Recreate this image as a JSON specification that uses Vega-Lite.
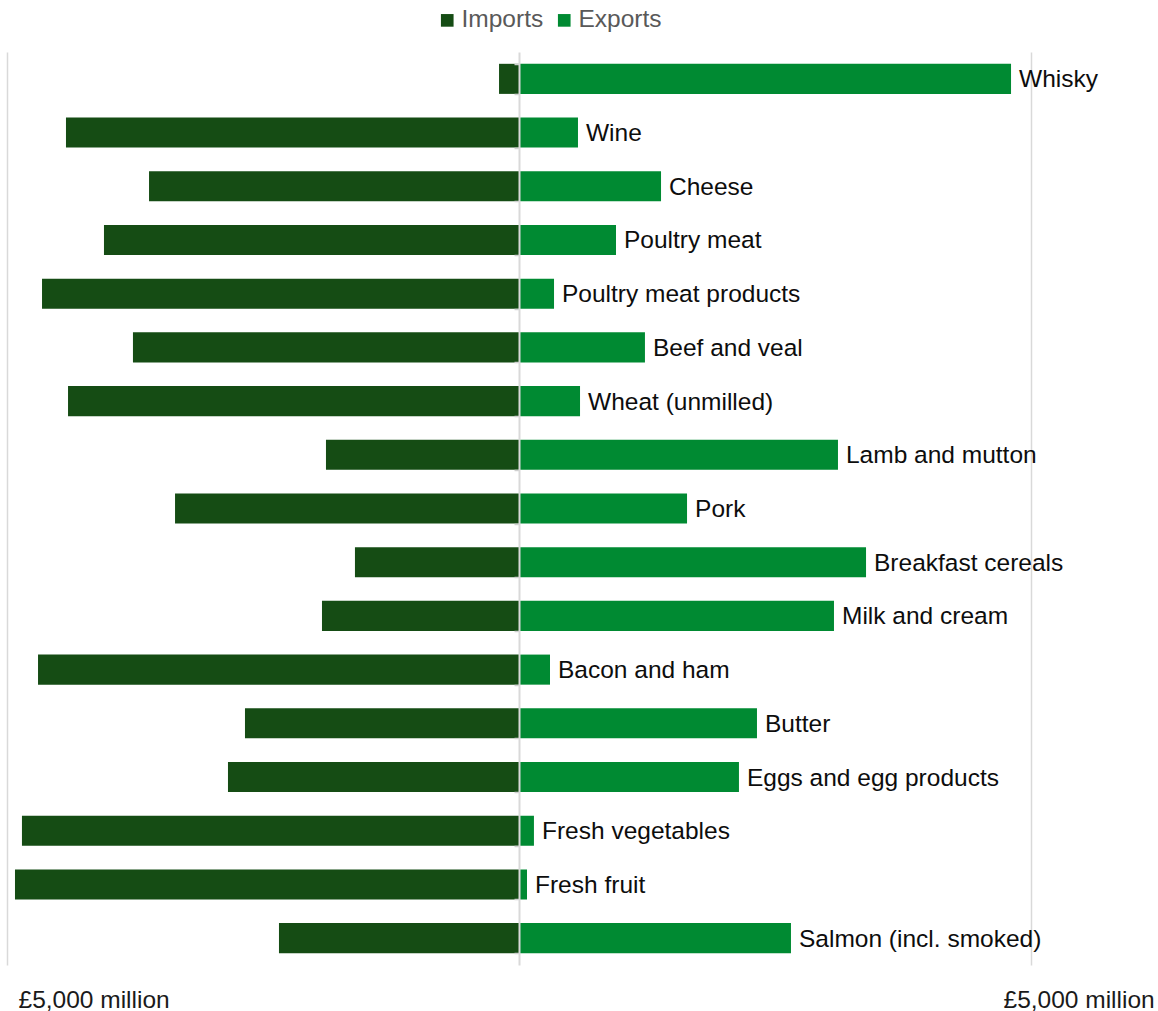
{
  "$schema": "https://vega.github.io/schema/vega-lite/v6.json",
  "width": 1024,
  "height": 913,
  "autosize": {"type": "none"},
  "padding": {"left": 7, "top": 52, "right": 127, "bottom": 46},
  "background": "white",
  "config": {"view": {"stroke": null}, "font": "Liberation Sans"},
  "data": {
    "values": [
      {"item": "Whisky", "flow": "Imports", "value": -195},
      {"item": "Whisky", "flow": "Exports", "value": 4805},
      {"item": "Wine", "flow": "Imports", "value": -4424},
      {"item": "Wine", "flow": "Exports", "value": 576},
      {"item": "Cheese", "flow": "Imports", "value": -3613},
      {"item": "Cheese", "flow": "Exports", "value": 1387},
      {"item": "Poultry meat", "flow": "Imports", "value": -4053},
      {"item": "Poultry meat", "flow": "Exports", "value": 947},
      {"item": "Poultry meat products", "flow": "Imports", "value": -4658},
      {"item": "Poultry meat products", "flow": "Exports", "value": 342},
      {"item": "Beef and veal", "flow": "Imports", "value": -3770},
      {"item": "Beef and veal", "flow": "Exports", "value": 1230},
      {"item": "Wheat (unmilled)", "flow": "Imports", "value": -4404},
      {"item": "Wheat (unmilled)", "flow": "Exports", "value": 596},
      {"item": "Lamb and mutton", "flow": "Imports", "value": -1885},
      {"item": "Lamb and mutton", "flow": "Exports", "value": 3115},
      {"item": "Pork", "flow": "Imports", "value": -3359},
      {"item": "Pork", "flow": "Exports", "value": 1641},
      {"item": "Breakfast cereals", "flow": "Imports", "value": -1602},
      {"item": "Breakfast cereals", "flow": "Exports", "value": 3389},
      {"item": "Milk and cream", "flow": "Imports", "value": -1924},
      {"item": "Milk and cream", "flow": "Exports", "value": 3076},
      {"item": "Bacon and ham", "flow": "Imports", "value": -4697},
      {"item": "Bacon and ham", "flow": "Exports", "value": 303},
      {"item": "Butter", "flow": "Imports", "value": -2676},
      {"item": "Butter", "flow": "Exports", "value": 2324},
      {"item": "Eggs and egg products", "flow": "Imports", "value": -2842},
      {"item": "Eggs and egg products", "flow": "Exports", "value": 2148},
      {"item": "Fresh vegetables", "flow": "Imports", "value": -4854},
      {"item": "Fresh vegetables", "flow": "Exports", "value": 146},
      {"item": "Fresh fruit", "flow": "Imports", "value": -4922},
      {"item": "Fresh fruit", "flow": "Exports", "value": 78},
      {"item": "Salmon (incl. smoked)", "flow": "Imports", "value": -2344},
      {"item": "Salmon (incl. smoked)", "flow": "Exports", "value": 2656}
    ]
  },
  "encoding": {
    "y": {
      "field": "item",
      "type": "nominal",
      "sort": null,
      "scale": {"paddingInner": 0.44, "paddingOuter": 0.22},
      "axis": {
        "title": null,
        "labels": false,
        "offset": -512,
        "tickBand": "extent",
        "tickSize": 5,
        "tickColor": "#d0d0d0",
        "tickWidth": 1.5,
        "domainColor": "#d9d9d9",
        "domainWidth": 2,
        "grid": false,
        "zindex": 1
      }
    },
    "x": {
      "field": "value",
      "type": "quantitative",
      "scale": {"domain": [-5000, 5000], "nice": false, "zero": false},
      "axis": {
        "title": null,
        "values": [-5000, 5000],
        "labelExpr": "'£5,000 million'",
        "grid": true,
        "gridColor": "#d9d9d9",
        "gridWidth": 1.5,
        "domain": false,
        "ticks": false,
        "labelFontSize": 24.5,
        "labelColor": "#1a1a1a",
        "labelAlign": "left",
        "labelOffset": {"condition": {"test": "datum.value < 0", "value": 11}, "value": -28},
        "labelPadding": 23,
        "labelFlush": false
      }
    }
  },
  "layer": [
    {
      "mark": {"type": "bar"},
      "encoding": {
        "color": {
          "field": "flow",
          "type": "nominal",
          "scale": {"domain": ["Imports", "Exports"], "range": ["#154c14", "#008a32"]},
          "legend": {
            "title": null,
            "orient": "none",
            "direction": "horizontal",
            "legendX": 428,
            "legendY": -44,
            "symbolType": "square",
            "symbolSize": 160,
            "symbolStrokeWidth": 0,
            "labelFontSize": 24.5,
            "labelColor": "#595959",
            "labelOffset": 2,
            "columnPadding": 8,
            "padding": 0
          }
        }
      }
    },
    {
      "transform": [{"filter": "datum.flow === 'Exports'"}],
      "mark": {"type": "text", "align": "left", "baseline": "middle", "dx": 8, "dy": 1.5, "fontSize": 24.5, "color": "#0d0d0d"},
      "encoding": {"text": {"field": "item"}}
    }
  ]
}
